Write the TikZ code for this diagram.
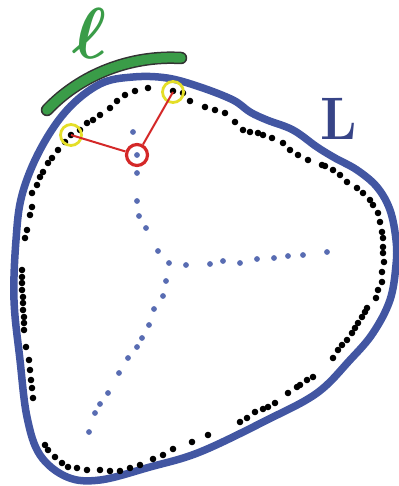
\documentclass[tikz,border=0pt]{standalone}
\usepackage{amsmath}
\usetikzlibrary{calc}
\definecolor{rimblue}{RGB}{66,86,162}
\definecolor{skblue}{RGB}{88,108,178}
\definecolor{selyellow}{RGB}{228,222,40}
\definecolor{ctrred}{RGB}{212,40,40}
\definecolor{arcgreen}{RGB}{58,156,72}
\definecolor{navy}{RGB}{55,68,135}

\begin{document}
\begin{tikzpicture}[x=1pt,y=-1pt,
bd/.style={circle, fill=black, minimum size=6.6pt, inner sep=0},
sk/.style={circle, fill=skblue, minimum size=5.8pt, inner sep=0},
sel/.style={circle, draw=selyellow, line width=2.8pt, minimum size=21pt, inner sep=0},
ctr/.style={circle, draw=ctrred, line width=3.2pt, minimum size=21pt, inner sep=0}]
	\useasboundingbox (0,0) rectangle (398,486);
	% outline of the region
	\draw[rimblue, line width=7.5pt, line join=round] plot[smooth cycle, tension=0.6] coordinates {
		(67,110) (100,84) (133,77) (167,78) (200,87) (233,100) (250,112) (267,120)
		(293,130) (317,147) (335,158) (357,170) (377,187) (390,210) (396,240) (396,265)
		(390,300) (373,333) (350,360) (317,393) (267,420) (200,452) (150,467) (100,480)
		(67,477) (40,455) (27,417) (20,360) (14,300) (16,240) (22,195) (40,150)};
	% sample points near the boundary
	\foreach \p in {(183,93),(190,101),(173,91),(148,88),(135,91),(125,95),(117,101),(110,108),
		(100,115),(93,120),(87,123),(80,130),(71,135),(65,142),(58,150),(52,158),(48,163),
		(43,172),(40,177),(37,185),(32,193),(32,207),(30,215),(27,230),(25,238),
		(22,270),(22,277),(22,283),(22,290),(23,297),(23,303),(23,310),(24,317),(24,323),
		(24,330),(26,347),(29,360),(30,370),(31,380),(32,388),(33,398),
		(45,445),(48,450),(55,457),(62,463),(68,467),(77,468),(87,470),(100,470),(110,471),
		(120,471),(130,468),(140,465),(153,459),(163,455),(173,449),(192,442),(208,435),
		(240,422),(247,418),(255,412),(263,409),(268,407),(275,403),(288,393),(297,387),
		(300,385),(307,380),(313,377),(333,358),(338,350),(342,345),(347,340),(352,333),
		(355,328),(358,323),(362,317),(365,312),(367,308),(376,298),(378,290),(382,282),
		(382,272),(384,262),(383,253),(383,247),(383,238),(382,232),(380,222),(378,213),
		(373,205),(370,200),(363,193),(357,188),(347,182),(340,175),(333,170),(325,166),
		(322,165),(308,160),(298,155),(290,150),(283,143),(272,138),(263,135),(258,133),
		(250,132),(243,130),(235,122),(225,113),(215,110),(205,107)}
		\node[bd] at \p {};
	% medial axis
	\foreach \p in {(133,132),(137,155),(137,173),(137,201),(139,216),(146,228),(158,251),
		(169,263),(186,265),(166,281),(163,296),(154,309),(149,325),(142,338),(137,347),
		(128,358),(119,373),(108,393),(100,404),(95,413),(89,432),(210,264),(223,261),
		(240,263),(257,259),(274,258),(288,256),(303,255),(327,252)}
		\node[sk] at \p {};
	% selected points and centre
	\node[sel] at (71,135) (s1) {};
	\node[sel] at (173,92) (s2) {};
	\node[ctr] at (137,155) (c) {};
	\draw[ctrred, line width=2pt] (s1.center) -- (c);
	\draw[ctrred, line width=2pt] (s2.center) -- (c);
	% arc and labels
	\draw[black!80, line width=12.5pt, line cap=round] (47,110) .. controls (80,75) and (130,55) .. (181,58);
	\draw[arcgreen, line width=9.5pt, line cap=round] (47,110) .. controls (80,75) and (130,55) .. (181,58);
	\node[arcgreen, font=\Huge, scale=2.9, inner sep=0] at (90,33) (ell) {$\boldsymbol{\ell}$};
	\node[navy, font=\fontsize{60}{60}\selectfont\bfseries, xscale=0.9] at (339,119) (L) {L};
\end{tikzpicture}
\end{document}
